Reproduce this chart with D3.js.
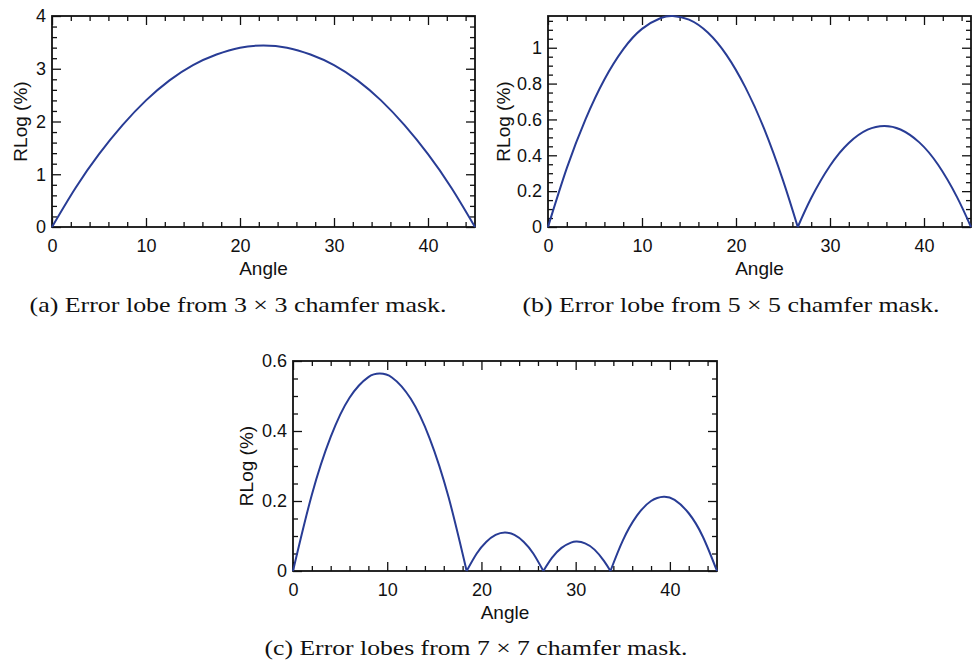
<!DOCTYPE html>
<html>
<head>
  <title>Chamfer error lobes</title>
  <script src="https://d3js.org/d3.v7.min.js"></script>
  <style>
    body { margin: 0; background: #fff; }
    .tick text { font-family: "Liberation Sans", Arial, sans-serif; font-size: 18px; fill: #111; }
    .axis line { stroke: #111; stroke-width: 1.3; }
    .axis .domain { stroke: none; }
    .label { font-family: "Liberation Sans", Arial, sans-serif; font-size: 19px; fill: #111; }
    .caption { font-family: "Liberation Serif", "Times New Roman", serif; font-size: 21px; fill: #111; }
  </style>
</head>
<body>
<div id="chart"></div>
<script>
// values
const xTicks = [0, 10, 20, 30, 40];

const anglesA = [0, 2.5, 5, 7.5, 10, 12.5, 15, 17.5, 20, 22.5, 25, 27.5, 30, 32.5, 35, 37.5, 40, 42.5, 45];
const rlogA   = [0, 0.74, 1.38, 1.93, 2.40, 2.78, 3.07, 3.27, 3.40, 3.44, 3.40, 3.27, 3.07, 2.78, 2.40, 1.93, 1.38, 0.74, 0];

const anglesB = [0, 2, 4, 6, 8, 10, 12, 13.28, 15, 17, 19, 21, 23, 25, 26.57,
                 28, 30, 32, 34, 35.78, 37.5, 39.5, 41.5, 43.5, 45];
const rlogB   = [0, 0.328, 0.602, 0.823, 0.991, 1.105, 1.166, 1.177, 1.157, 1.085, 0.959, 0.779, 0.547, 0.260, 0,
                 0.162, 0.342, 0.469, 0.543, 0.564, 0.544, 0.472, 0.347, 0.168, 0];

const anglesC = [0, 2, 4, 6, 8, 9.22, 10.5, 12.5, 14.5, 16.5, 18.43,
                 19.5, 20.5, 21.5, 22.5, 23.5, 24.5, 25.5, 26.57,
                 27.5, 28.5, 29.5, 30.13, 31, 32, 33, 33.69,
                 35, 36.5, 38, 39.35, 40.5, 42, 43.5, 45];
const rlogC   = [0, 0.218, 0.383, 0.495, 0.554, 0.564, 0.553, 0.492, 0.379, 0.212, 0,
                 0.050, 0.083, 0.103, 0.110, 0.103, 0.083, 0.050, 0,
                 0.038, 0.066, 0.081, 0.084, 0.079, 0.061, 0.029, 0,
                 0.087, 0.158, 0.200, 0.212, 0.203, 0.165, 0.098, 0];

const yTicksA = [0, 1, 2, 3, 4];
const yTicksB = [0, 0.2, 0.4, 0.6, 0.8, 1];
const yTicksC = [0, 0.2, 0.4, 0.6];

const captions = [
  "(a) Error lobe from 3 \u00d7 3 chamfer mask.",
  "(b) Error lobe from 5 \u00d7 5 chamfer mask.",
  "(c) Error lobes from 7 \u00d7 7 chamfer mask."
];

const width = 972, height = 664;
const svg = d3.select("#chart").append("svg")
  .attr("width", width)
  .attr("height", height);

const panels = [
  { angles: anglesA, rlog: rlogA, yTicks: yTicksA, yMax: 4, yMinor: 0.2,
    left: 52, right: 475, top: 16, bottom: 227, yLabelX: 27,
    caption: captions[0], capX: 238, capY: 312, capLen: 417 },
  { angles: anglesB, rlog: rlogB, yTicks: yTicksB, yMax: 1.177, yMinor: 0.05,
    left: 548, right: 971, top: 16, bottom: 227, yLabelX: 510,
    caption: captions[1], capX: 731, capY: 312, capLen: 417 },
  { angles: anglesC, rlog: rlogC, yTicks: yTicksC, yMax: 0.6, yMinor: 0.05,
    left: 293, right: 717, top: 361, bottom: 571, yLabelX: 253,
    caption: captions[2], capX: 476, capY: 655, capLen: 423 }
];

// split a series into lobes at its zeros so the cusps stay sharp
function splitLobes(xs, ys) {
  const lobes = [];
  let cur = [];
  xs.forEach((x, i) => {
    cur.push([x, ys[i]]);
    if (ys[i] === 0 && cur.length > 1) {
      lobes.push(cur);
      cur = [[x, 0]];
    }
  });
  return lobes;
}

panels.forEach(p => {
  const w = p.right - p.left, h = p.bottom - p.top;
  const g = svg.append("g").attr("transform", `translate(${p.left},${p.top})`);

  const x = d3.scaleLinear().domain([0, 45]).range([0, w]);
  const y = d3.scaleLinear().domain([0, p.yMax]).range([h, 0]);

  const xMinor = d3.range(0, 45.01, 2).filter(v => !xTicks.includes(v));
  const yMinor = d3.range(0, p.yMax + 1e-6, p.yMinor)
    .map(v => +v.toFixed(3))
    .filter(v => !p.yTicks.some(t => Math.abs(t - v) < 1e-6));

  // major ticks with labels (bottom, left)
  g.append("g").attr("class", "axis")
    .attr("transform", `translate(0,${h})`)
    .call(d3.axisBottom(x).tickValues(xTicks).tickSize(-9).tickPadding(12.5).tickFormat(d3.format("~g")));
  g.append("g").attr("class", "axis")
    .call(d3.axisLeft(y).tickValues(p.yTicks).tickSize(-9).tickPadding(6).tickFormat(d3.format("~g")));

  // mirrored ticks (top, right)
  g.append("g").attr("class", "axis")
    .call(d3.axisTop(x).tickValues(xTicks).tickSize(-9).tickFormat(""));
  g.append("g").attr("class", "axis")
    .attr("transform", `translate(${w},0)`)
    .call(d3.axisRight(y).tickValues(p.yTicks).tickSize(-9).tickFormat(""));

  // minor ticks on all four sides
  g.append("g").attr("class", "axis")
    .attr("transform", `translate(0,${h})`)
    .call(d3.axisBottom(x).tickValues(xMinor).tickSize(-5).tickFormat(""));
  g.append("g").attr("class", "axis")
    .call(d3.axisTop(x).tickValues(xMinor).tickSize(-5).tickFormat(""));
  g.append("g").attr("class", "axis")
    .call(d3.axisLeft(y).tickValues(yMinor).tickSize(-5).tickFormat(""));
  g.append("g").attr("class", "axis")
    .attr("transform", `translate(${w},0)`)
    .call(d3.axisRight(y).tickValues(yMinor).tickSize(-5).tickFormat(""));

  // frame
  g.append("rect")
    .attr("width", w).attr("height", h)
    .attr("fill", "none")
    .attr("stroke", "#111")
    .attr("stroke-width", 1.8);

  // curve
  const line = d3.line()
    .x(d => x(d[0]))
    .y(d => y(d[1]))
    .curve(d3.curveNatural);

  splitLobes(p.angles, p.rlog).forEach(lobe => {
    g.append("path")
      .datum(lobe)
      .attr("d", line)
      .attr("fill", "none")
      .attr("stroke", "#283c95")
      .attr("stroke-width", 2);
  });

  // axis labels
  svg.append("text").attr("class", "label")
    .attr("x", p.left + w / 2).attr("y", p.bottom + 48)
    .attr("text-anchor", "middle")
    .text("Angle");
  svg.append("text").attr("class", "label")
    .attr("transform", `translate(${p.yLabelX},${p.top + h / 2}) rotate(-90)`)
    .attr("text-anchor", "middle")
    .text("RLog (%)");

  // caption
  svg.append("text").attr("class", "caption")
    .attr("x", p.capX - p.capLen / 2).attr("y", p.capY)
    .attr("textLength", p.capLen)
    .attr("lengthAdjust", "spacingAndGlyphs")
    .text(p.caption);
});
</script>
</body>
</html>
